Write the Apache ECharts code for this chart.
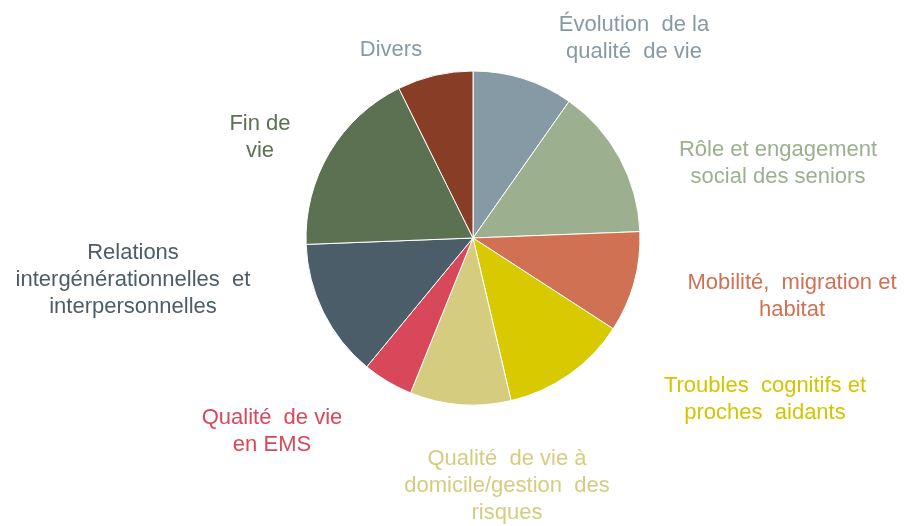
<!DOCTYPE html>
<html>
<head>
<meta charset="utf-8">
<script src="https://cdn.jsdelivr.net/npm/echarts@6/dist/echarts.min.js"></script>
<style>
  html, body { margin: 0; padding: 0; background: #fff; }
  #chart { width: 904px; height: 526px; }
</style>
</head>
<body>
<div id="chart"></div>
<script>
// themes (clockwise from 12 o'clock)
var categories = [
  'Évolution  de la\nqualité  de vie',
  'Rôle et engagement\nsocial des seniors',
  'Mobilité,  migration et\nhabitat',
  'Troubles  cognitifs et\nproches  aidants',
  'Qualité  de vie à\ndomicile/gestion  des\nrisques',
  'Qualité  de vie\nen EMS',
  'Relations\nintergénérationnelles  et\ninterpersonnelles',
  'Fin de\nvie',
  'Divers'
];
var values = [8, 12, 8, 10, 8, 4, 11, 15, 6];
var colors = ['#869AA5', '#9CAF8F', '#D07153', '#D9C900', '#D6CC80', '#D9485A', '#4B5D68', '#5C7151', '#883D26'];
var labelColors = ['#869AA5', '#9CAF8F', '#D07153', '#D4C400', '#D6CC80', '#D9485A', '#4B5D68', '#5C7151', '#869AA5'];
// label centres (layout only)
var labelPos = [[634, 38], [778, 163], [792, 296], [765, 399], [507, 486], [272, 431], [133, 280], [260, 137], [391, 50]];

var chart = echarts.init(document.getElementById('chart'));

var seriesData = [];
for (var i = 0; i < categories.length; i++) {
  seriesData.push({
    name: categories[i],
    value: values[i],
    itemStyle: { color: colors[i] },
    label: { color: labelColors[i] }
  });
}

chart.setOption({
  animation: false,
  series: [{
    type: 'pie',
    center: [473, 238],
    radius: 167,
    startAngle: 90,
    clockwise: true,
    avoidLabelOverlap: false,
    itemStyle: { borderColor: '#fff', borderWidth: 1 },
    label: {
      show: true,
      position: 'outside',
      formatter: '{b}',
      fontFamily: 'Liberation Sans, Arial, sans-serif',
      fontSize: 22,
      lineHeight: 27,
      align: 'center'
    },
    labelLine: { show: false },
    labelLayout: function (params) {
      var p = labelPos[params.dataIndex];
      return { x: p[0], y: p[1], align: 'center', verticalAlign: 'middle' };
    },
    emphasis: { disabled: true },
    data: seriesData
  }]
});
</script>
</body>
</html>
